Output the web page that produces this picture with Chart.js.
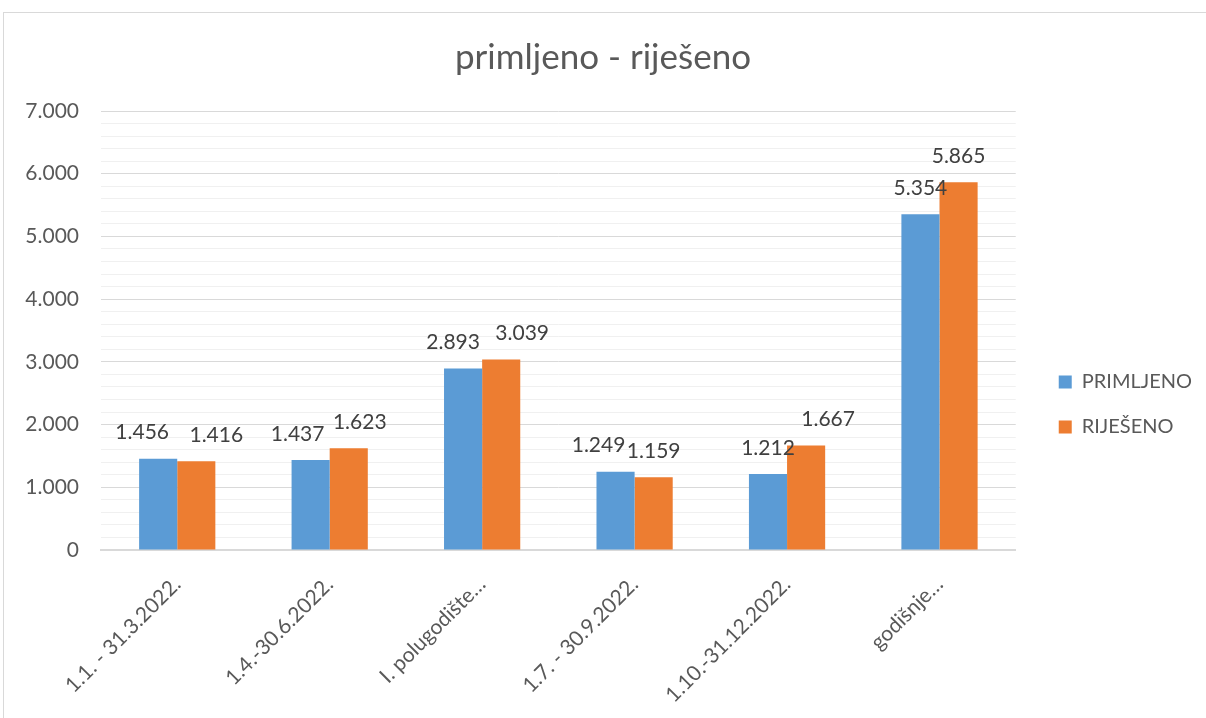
<!DOCTYPE html>
<html>
<head>
<meta charset="utf-8">
<script src="https://cdn.jsdelivr.net/npm/chart.js@4/dist/chart.umd.min.js"></script>
<style>
    body { margin: 0; background: #fff; overflow: hidden; }
    #frame {
        position: absolute;
        left: 3px;
        top: 12px;
        width: 1240px;
        height: 760px;
        border: 1px solid #d9d9d9;
    }
    #wrap { width: 1202px; height: 705px; }
</style>
</head>
<body>
<div id="frame"><div id="wrap"><canvas id="chart"></canvas></div></div>
<script>
// podaci
const categories = ['1.1. - 31.3.2022.', '1.4.-30.6.2022.', 'I. polugodište…', '1.7. - 30.9.2022.', '1.10.-31.12.2022.', 'godišnje…'];
const primljeno = [1456, 1437, 2893, 1249, 1212, 5354];
const rijeseno = [1416, 1623, 3039, 1159, 1667, 5865];
const seriesNames = ['PRIMLJENO', 'RIJEŠENO'];
const yMax = 7000;
const yStep = 200;

// ručno pomaknute oznake (px, vodoravno) da se ne preklapaju
const labelShift = [
    [-16, -13, -10, -17, 0, 0],
    [20, 11, 21, 0, 22, 0]
];

const FONT = 'Lato, "Open Sans", sans-serif';

function fmt(v) {
    return String(v).replace(/\B(?=(\d{3})+(?!\d))/g, '.');
}

// oznake vrijednosti iznad stupaca
const valueLabels = {
    id: 'valueLabels',
    afterDatasetsDraw(chart) {
        const ctx = chart.ctx;
        ctx.save();
        ctx.font = '21px ' + FONT;
        ctx.fillStyle = '#404040';
        ctx.textAlign = 'center';
        ctx.textBaseline = 'middle';
        chart.data.datasets.forEach((ds, i) => {
            chart.getDatasetMeta(i).data.forEach((bar, j) => {
                ctx.fillText(fmt(ds.data[j]), bar.x + labelShift[i][j], bar.y - 26);
            });
        });
        ctx.restore();
    }
};

new Chart(document.getElementById('chart'), {
    type: 'bar',
    data: {
        labels: categories,
        datasets: [
            { label: seriesNames[0], data: primljeno, backgroundColor: '#5b9bd5' },
            { label: seriesNames[1], data: rijeseno, backgroundColor: '#ed7d31' }
        ]
    },
    options: {
        responsive: true,
        maintainAspectRatio: false,
        animation: false,
        categoryPercentage: 0.5,
        barPercentage: 1.0,
        layout: { padding: { right: 4 } },
        plugins: {
            title: {
                display: true,
                text: 'primljeno - riješeno',
                color: '#595959',
                font: { family: FONT, size: 35, weight: 'normal' },
                padding: { top: 24, bottom: 32 }
            },
            legend: {
                position: 'right',
                title: { display: true, text: '', font: { size: 10 }, padding: { top: 0, bottom: 66 } },
                labels: {
                    color: '#595959',
                    font: { family: FONT, size: 20 },
                    boxWidth: 13,
                    boxHeight: 13,
                    padding: 25
                }
            },
            tooltip: { enabled: false }
        },
        scales: {
            x: {
                grid: { display: false },
                border: { color: '#d9d9d9', width: 2 },
                ticks: {
                    color: '#595959',
                    font: { family: FONT, size: 21 },
                    minRotation: 45,
                    maxRotation: 45,
                    autoSkip: false,
                    padding: 14
                },
                afterFit: (scale) => { scale.height = 168; }
            },
            y: {
                min: 0,
                max: yMax,
                border: { display: false },
                grid: {
                    drawTicks: false,
                    color: (c) => c.tick.value % 1000 === 0 ? '#d9d9d9' : '#f0f0f0',
                    lineWidth: 1
                },
                ticks: {
                    stepSize: yStep,
                    autoSkip: false,
                    padding: 22,
                    color: '#595959',
                    font: { family: FONT, size: 21 },
                    callback: (v) => v % 1000 === 0 ? fmt(v) : ''
                },
                afterFit: (scale) => { scale.width = 97; }
            },
            // prazan prostor između grafa i legende
            gap: {
                position: 'right',
                display: true,
                grid: { display: false },
                border: { display: false },
                ticks: { display: false },
                afterFit: (scale) => { scale.width = 18; }
            }
        }
    },
    plugins: [valueLabels]
});
</script>
</body>
</html>
